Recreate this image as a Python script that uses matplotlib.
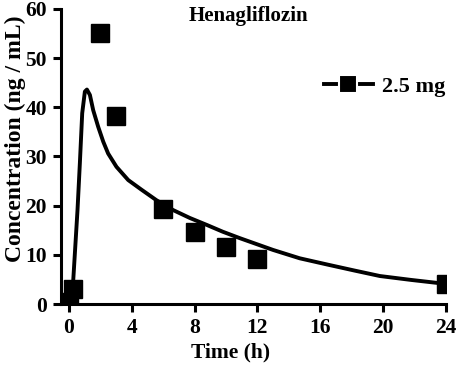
import matplotlib.pyplot as plt
from matplotlib.lines import Line2D

# observed concentrations
obs_time = [0, 0.25, 2, 3, 6, 8, 10, 12, 24]
obs_conc = [0.5, 3.1, 55.0, 38.2, 19.4, 14.7, 11.6, 9.1, 4.1]

# fitted curve
fit_time = [0, 0.17, 0.28, 0.55, 0.7, 0.85, 1.02, 1.15, 1.34, 1.55, 1.87, 2.19, 2.5,
            3.03, 3.78, 4.6, 5.58, 6.64, 7.7, 8.77, 9.8, 10.88, 13.0, 14.7, 16.5,
            18.2, 19.8, 21.8, 24]
fit_conc = [0, 0.8, 4.9, 19.1, 28.6, 38.8, 43.2, 43.6, 42.5, 39.4, 36.0, 33.0, 30.6,
            27.9, 25.2, 23.3, 21.1, 19.1, 17.5, 16.1, 14.7, 13.4, 11.0, 9.3, 8.0,
            6.8, 5.7, 4.9, 4.1]

plt.rcParams['font.family'] = 'Liberation Serif'
plt.rcParams['font.weight'] = 'bold'

fig = plt.figure(figsize=(4.57, 3.69), dpi=100)
ax = fig.add_axes([0.1335, 0.176, 0.842, 0.8])

ax.plot(fit_time, fit_conc, color='black', linewidth=2.8, solid_joinstyle='round')
ax.plot(obs_time, obs_conc, linestyle='none', marker='s', markersize=13,
        color='black', clip_on=True)

ax.set_xlim(-0.5, 24)
ax.set_ylim(0, 60)
ax.set_xticks([0, 4, 8, 12, 16, 20, 24])
ax.set_yticks([0, 10, 20, 30, 40, 50, 60])

for s in ['top', 'right']:
    ax.spines[s].set_visible(False)
for s in ['left', 'bottom']:
    ax.spines[s].set_linewidth(2.2)
ax.tick_params(direction='out', length=6, width=2.2, labelsize=15.5, pad=4)
for lab in ax.get_xticklabels() + ax.get_yticklabels():
    lab.set_fontweight('bold')

ax.set_xlabel('Time (h)', fontsize=15.5, fontweight='bold')
ax.xaxis.set_label_coords(0.44, -0.13)
ax.set_ylabel('Concentration (ng / mL)', fontsize=17, fontweight='bold')
ax.yaxis.set_label_coords(-0.092, 0.56)
ax.text(0.488, 1.01, 'Henagliflozin', transform=ax.transAxes, ha='center', va='top',
        fontsize=15, fontweight='bold')

handle = Line2D([], [], color='black', linewidth=2.8, marker='s', markersize=13,
                markeredgecolor='white', markeredgewidth=1.5)
ax.legend([handle], ['2.5 mg'], loc='upper right', bbox_to_anchor=(1.05, 0.84),
          frameon=False, prop={'size': 16, 'weight': 'bold'}, handlelength=2.2,
          handletextpad=0.4)

fig.savefig('out.png', dpi=100)
